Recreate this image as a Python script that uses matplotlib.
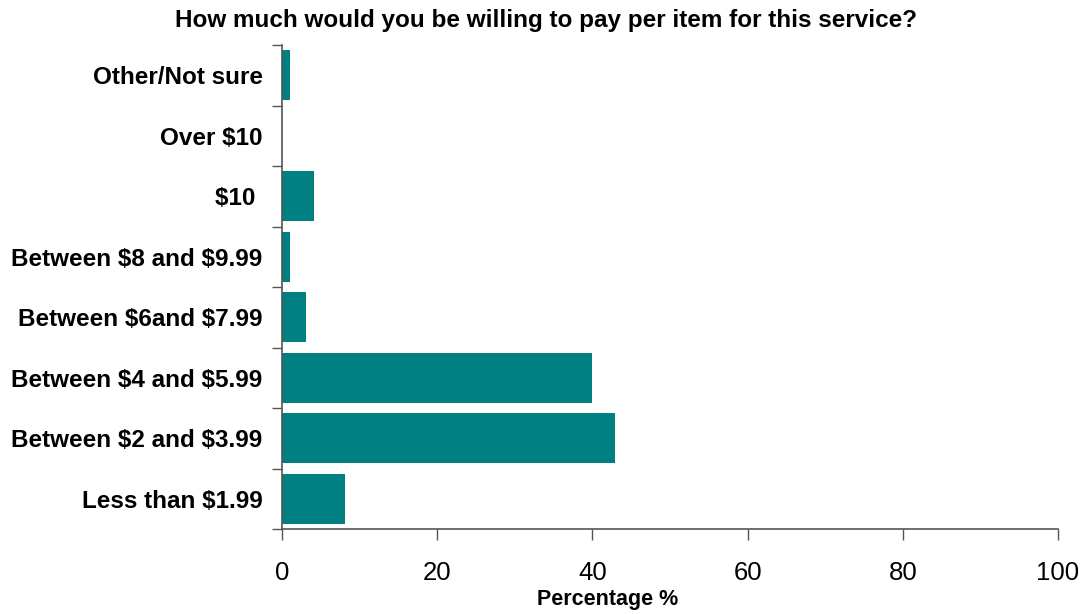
import numpy as np
import matplotlib.pyplot as plt

plt.rcParams['font.family'] = ['Liberation Sans', 'DejaVu Sans']
plt.rcParams['text.parse_math'] = False

# categories bottom -> top
categories = ['Less than $1.99', 'Between $2 and $3.99', 'Between $4 and $5.99',
              'Between $6and $7.99', 'Between $8 and $9.99', '$10 ',
              'Over $10', 'Other/Not sure']
values = [8.1, 42.9, 40.0, 3.1, 1.0, 4.1, 0.0, 1.0]
xticks = [0, 20, 40, 60, 80, 100]

fig = plt.figure(figsize=(10.86, 6.14), dpi=100)
ax = fig.add_axes([0.2597, 0.1384, 0.7145, 0.7883])

pos = np.arange(len(categories))
ax.barh(pos, values, height=0.83, color='#008080')

ax.set_xlim(0, 100)
ax.set_ylim(-0.5, len(categories) - 0.5)
ax.set_xticks(xticks)
ax.set_xticklabels([str(t) for t in xticks], fontsize=18.5)
ax.tick_params(axis='x', direction='out', length=8, width=1, color='#555555', pad=15)

# labels on minor ticks, tick marks at category boundaries
ax.set_yticks(np.arange(-0.5, len(categories), 1.0))
ax.set_yticklabels([])
ax.set_yticks(pos, minor=True)
ax.set_yticklabels(categories, minor=True, fontsize=17.5, fontweight='bold')
ax.tick_params(axis='y', which='major', direction='out', length=7, width=1, color='#555555')
ax.tick_params(axis='y', which='minor', length=0, pad=14)

for s in ['top', 'right']:
    ax.spines[s].set_visible(False)
for s in ['left', 'bottom']:
    ax.spines[s].set_color('#555555')
    ax.spines[s].set_linewidth(1.2)

fig.text(546 / 1086, 1 - 21 / 614,
         'How much would you be willing to pay per item for this service?',
         fontsize=17.5, fontweight='bold', ha='center', va='center')
fig.text(608 / 1086, 1 - 599 / 614, 'Percentage %',
         fontsize=15.5, fontweight='bold', ha='center', va='center')

fig.savefig('out.png', dpi=100)
